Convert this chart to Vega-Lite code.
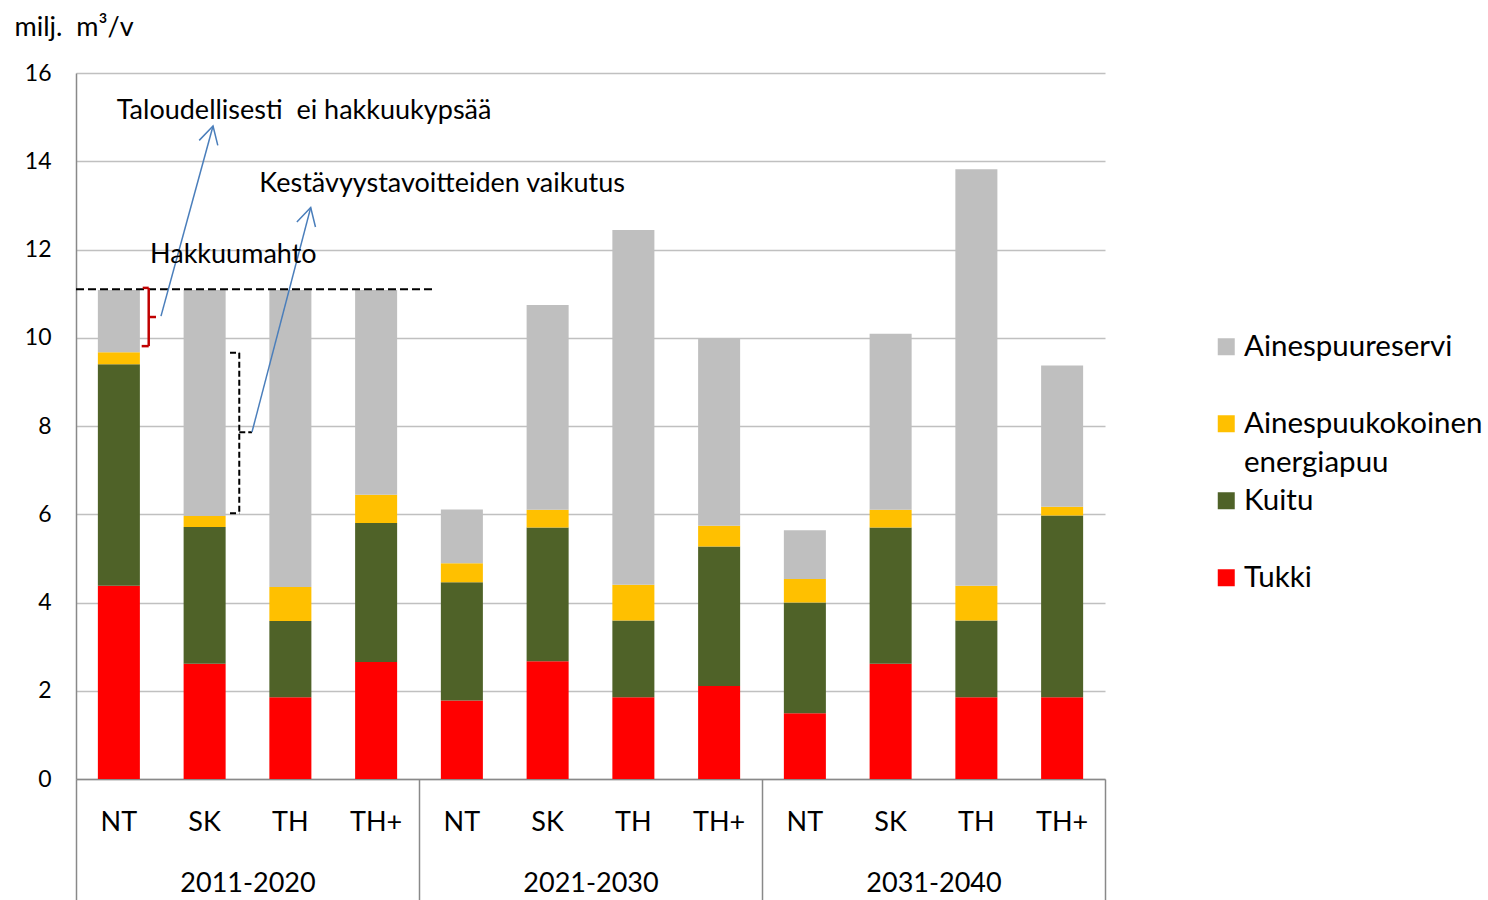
{
  "$schema": "https://vega.github.io/schema/vega-lite/v6.json",
  "width": 1029,
  "height": 706,
  "autosize": "none",
  "padding": {"left": 76, "top": 73, "right": 383, "bottom": 121},
  "background": "#ffffff",
  "config": {
    "view": {"stroke": null},
    "font": "Lato",
    "axis": {"labelFont": "Lato", "titleFont": "Lato", "labelColor": "#000000", "titleColor": "#000000"},
    "legend": {"labelFont": "Lato", "labelColor": "#000000"},
    "text": {"font": "Lato"},
    "style": {"guide-label": {"lineHeight": 39}}
  },
  "datasets": {
    "bars": [
      {"period": "2011-2020", "scenario": "NT", "lajite": "Tukki", "value": 4.38},
      {"period": "2011-2020", "scenario": "NT", "lajite": "Kuitu", "value": 5.02},
      {"period": "2011-2020", "scenario": "NT", "lajite": "Ainespuukokoinen energiapuu", "value": 0.27},
      {"period": "2011-2020", "scenario": "NT", "lajite": "Ainespuureservi", "value": 1.41},
      {"period": "2011-2020", "scenario": "SK", "lajite": "Tukki", "value": 2.61},
      {"period": "2011-2020", "scenario": "SK", "lajite": "Kuitu", "value": 3.10},
      {"period": "2011-2020", "scenario": "SK", "lajite": "Ainespuukokoinen energiapuu", "value": 0.25},
      {"period": "2011-2020", "scenario": "SK", "lajite": "Ainespuureservi", "value": 5.12},
      {"period": "2011-2020", "scenario": "TH", "lajite": "Tukki", "value": 1.85},
      {"period": "2011-2020", "scenario": "TH", "lajite": "Kuitu", "value": 1.73},
      {"period": "2011-2020", "scenario": "TH", "lajite": "Ainespuukokoinen energiapuu", "value": 0.77},
      {"period": "2011-2020", "scenario": "TH", "lajite": "Ainespuureservi", "value": 6.73},
      {"period": "2011-2020", "scenario": "TH+", "lajite": "Tukki", "value": 2.65},
      {"period": "2011-2020", "scenario": "TH+", "lajite": "Kuitu", "value": 3.15},
      {"period": "2011-2020", "scenario": "TH+", "lajite": "Ainespuukokoinen energiapuu", "value": 0.64},
      {"period": "2011-2020", "scenario": "TH+", "lajite": "Ainespuureservi", "value": 4.64},
      {"period": "2021-2030", "scenario": "NT", "lajite": "Tukki", "value": 1.78},
      {"period": "2021-2030", "scenario": "NT", "lajite": "Kuitu", "value": 2.68},
      {"period": "2021-2030", "scenario": "NT", "lajite": "Ainespuukokoinen energiapuu", "value": 0.43},
      {"period": "2021-2030", "scenario": "NT", "lajite": "Ainespuureservi", "value": 1.22},
      {"period": "2021-2030", "scenario": "SK", "lajite": "Tukki", "value": 2.67},
      {"period": "2021-2030", "scenario": "SK", "lajite": "Kuitu", "value": 3.03},
      {"period": "2021-2030", "scenario": "SK", "lajite": "Ainespuukokoinen energiapuu", "value": 0.40},
      {"period": "2021-2030", "scenario": "SK", "lajite": "Ainespuureservi", "value": 4.64},
      {"period": "2021-2030", "scenario": "TH", "lajite": "Tukki", "value": 1.85},
      {"period": "2021-2030", "scenario": "TH", "lajite": "Kuitu", "value": 1.74},
      {"period": "2021-2030", "scenario": "TH", "lajite": "Ainespuukokoinen energiapuu", "value": 0.81},
      {"period": "2021-2030", "scenario": "TH", "lajite": "Ainespuureservi", "value": 8.04},
      {"period": "2021-2030", "scenario": "TH+", "lajite": "Tukki", "value": 2.11},
      {"period": "2021-2030", "scenario": "TH+", "lajite": "Kuitu", "value": 3.16},
      {"period": "2021-2030", "scenario": "TH+", "lajite": "Ainespuukokoinen energiapuu", "value": 0.47},
      {"period": "2021-2030", "scenario": "TH+", "lajite": "Ainespuureservi", "value": 4.25},
      {"period": "2031-2040", "scenario": "NT", "lajite": "Tukki", "value": 1.49},
      {"period": "2031-2040", "scenario": "NT", "lajite": "Kuitu", "value": 2.51},
      {"period": "2031-2040", "scenario": "NT", "lajite": "Ainespuukokoinen energiapuu", "value": 0.53},
      {"period": "2031-2040", "scenario": "NT", "lajite": "Ainespuureservi", "value": 1.11},
      {"period": "2031-2040", "scenario": "SK", "lajite": "Tukki", "value": 2.61},
      {"period": "2031-2040", "scenario": "SK", "lajite": "Kuitu", "value": 3.09},
      {"period": "2031-2040", "scenario": "SK", "lajite": "Ainespuukokoinen energiapuu", "value": 0.40},
      {"period": "2031-2040", "scenario": "SK", "lajite": "Ainespuureservi", "value": 3.99},
      {"period": "2031-2040", "scenario": "TH", "lajite": "Tukki", "value": 1.85},
      {"period": "2031-2040", "scenario": "TH", "lajite": "Kuitu", "value": 1.74},
      {"period": "2031-2040", "scenario": "TH", "lajite": "Ainespuukokoinen energiapuu", "value": 0.79},
      {"period": "2031-2040", "scenario": "TH", "lajite": "Ainespuureservi", "value": 9.44},
      {"period": "2031-2040", "scenario": "TH+", "lajite": "Tukki", "value": 1.85},
      {"period": "2031-2040", "scenario": "TH+", "lajite": "Kuitu", "value": 4.12},
      {"period": "2031-2040", "scenario": "TH+", "lajite": "Ainespuukokoinen energiapuu", "value": 0.20},
      {"period": "2031-2040", "scenario": "TH+", "lajite": "Ainespuureservi", "value": 3.20}
    ],
    "hakkuumahto": [{"x": 0, "x2": 4.187, "y": 11.10}],
    "redBracket": [
      {"x": 0.778, "y": 11.13, "x2": 0.848, "y2": 11.13},
      {"x": 0.848, "y": 11.13, "x2": 0.848, "y2": 9.81},
      {"x": 0.766, "y": 9.81, "x2": 0.848, "y2": 9.81},
      {"x": 0.848, "y": 10.47, "x2": 0.933, "y2": 10.47}
    ],
    "blackBracket": [
      {"x": 1.796, "y": 9.66, "x2": 1.904, "y2": 9.66},
      {"x": 1.904, "y": 9.66, "x2": 1.904, "y2": 6.02},
      {"x": 1.796, "y": 6.02, "x2": 1.904, "y2": 6.02},
      {"x": 1.904, "y": 7.86, "x2": 2.052, "y2": 7.86}
    ],
    "arrows": [
      {"x": 0.991, "y": 10.49, "x2": 1.598, "y2": 14.80},
      {"x": 2.052, "y": 7.86, "x2": 2.737, "y2": 12.95}
    ],
    "labels": [
      {"x": 0.475, "y": 14.96, "text": "Taloudellisesti\u00a0 ei hakkuukypsää"},
      {"x": 2.138, "y": 13.30, "text": "Kestävyystavoitteiden vaikutus"},
      {"x": 0.863, "y": 11.69, "text": "Hakkuumahto"}
    ]
  },
  "layer": [
    {
      "data": {"name": "bars"},
      "transform": [
        {"calculate": "datum.period + '|' + datum.scenario", "as": "key"},
        {"calculate": "indexof(['Tukki', 'Kuitu', 'Ainespuukokoinen energiapuu', 'Ainespuureservi'], datum.lajite)", "as": "stackOrder"}
      ],
      "mark": {"type": "bar"},
      "encoding": {
        "x": {
          "field": "key", "type": "nominal", "sort": null,
          "scale": {"paddingInner": 0.51, "paddingOuter": 0.255},
          "axis": {
            "title": null, "labelExpr": "split(datum.value, '|')[1]",
            "labelAngle": 0, "labelFontSize": 27, "labelPadding": 30,
            "ticks": false, "tickSize": 0, "grid": false,
            "domain": true, "domainColor": "#898989", "domainWidth": 1.5
          }
        },
        "y": {
          "field": "value", "type": "quantitative", "stack": "zero",
          "scale": {"domain": [0, 16], "nice": false},
          "axis": {
            "values": [0, 2, 4, 6, 8, 10, 12, 14, 16],
            "grid": true, "gridColor": "#C0C0C0", "gridWidth": 1.5,
            "ticks": false, "tickSize": 0,
            "domain": true, "domainColor": "#898989", "domainWidth": 1.5,
            "labelFontSize": 23, "labelPadding": 25,
            "title": "milj.\u00a0 m³/v", "titleAngle": 0, "titleAlign": "left",
            "titleBaseline": "alphabetic", "titleX": -62, "titleY": -38,
            "titleFontSize": 27, "titleFontWeight": "normal"
          }
        },
        "color": {
          "field": "lajite", "type": "nominal",
          "scale": {
            "domain": ["Ainespuureservi", "Ainespuukokoinen energiapuu", "Kuitu", "Tukki"],
            "range": ["#BFBFBF", "#FFC000", "#4F6228", "#FF0000"]
          },
          "legend": {
            "title": null, "orient": "none", "legendX": 1135.5, "legendY": 259,
            "symbolType": "square", "symbolSize": 289, "symbolStrokeWidth": 0,
            "labelFontSize": 29.5, "labelOffset": 3, "rowPadding": 7,
            "gridAlign": "all",
            "labelLimit": 400, "padding": 0,
            "labelExpr": "datum.label == 'Ainespuukokoinen energiapuu' ? ['Ainespuukokoinen', 'energiapuu'] : datum.label"
          }
        },
        "order": {"field": "stackOrder", "type": "quantitative"}
      }
    },
    {
      "layer": [
        {
          "data": {"name": "hakkuumahto"},
          "mark": {"type": "rule", "color": "#000000", "strokeWidth": 2, "strokeDash": [8, 4]},
          "encoding": {
            "x": {
              "field": "x", "type": "quantitative",
              "scale": {"domain": [0, 12], "nice": false, "zero": false},
              "axis": {
                "orient": "bottom", "title": null,
                "values": [0, 2, 4, 6, 8, 10, 12],
                "domain": false, "grid": false,
                "ticks": true, "tickSize": 121, "tickColor": "#898989", "tickWidth": 1.5,
                "tickOpacity": {"condition": {"test": "datum.value % 4 === 0", "value": 1}, "value": 0},
                "labelExpr": "datum.value == 2 ? '2011-2020' : datum.value == 6 ? '2021-2030' : datum.value == 10 ? '2031-2040' : ''",
                "labelFontSize": 27, "labelPadding": -30, "labelAngle": 0,
                "labelFlush": false, "labelOverlap": false, "labelBound": false
              }
            },
            "x2": {"field": "x2"},
            "y": {"field": "y", "type": "quantitative"}
          }
        },
        {
          "data": {"name": "redBracket"},
          "mark": {"type": "rule", "color": "#C00000", "strokeWidth": 2.5},
          "encoding": {
            "x": {"field": "x", "type": "quantitative"},
            "x2": {"field": "x2"},
            "y": {"field": "y", "type": "quantitative"},
            "y2": {"field": "y2"}
          }
        },
        {
          "data": {"name": "blackBracket"},
          "mark": {"type": "rule", "color": "#000000", "strokeWidth": 2, "strokeDash": [6, 3]},
          "encoding": {
            "x": {"field": "x", "type": "quantitative"},
            "x2": {"field": "x2"},
            "y": {"field": "y", "type": "quantitative"},
            "y2": {"field": "y2"}
          }
        },
        {
          "data": {"name": "arrows"},
          "mark": {"type": "rule", "color": "#4A7EBB", "strokeWidth": 1.5},
          "encoding": {
            "x": {"field": "x", "type": "quantitative"},
            "x2": {"field": "x2"},
            "y": {"field": "y", "type": "quantitative"},
            "y2": {"field": "y2"}
          }
        },
        {
          "data": {"name": "arrows"},
          "mark": {"type": "point", "shape": "M-0.55,1L0,0L0.55,1", "size": 1225, "filled": false, "stroke": "#4A7EBB", "strokeWidth": 1.5, "angle": 15, "opacity": 1},
          "encoding": {
            "x": {"field": "x2", "type": "quantitative"},
            "y": {"field": "y2", "type": "quantitative"}
          }
        },
        {
          "data": {"name": "labels"},
          "mark": {"type": "text", "align": "left", "baseline": "alphabetic", "fontSize": 27, "color": "#000000"},
          "encoding": {
            "x": {"field": "x", "type": "quantitative"},
            "y": {"field": "y", "type": "quantitative"},
            "text": {"field": "text"}
          }
        }
      ]
    }
  ],
  "resolve": {"scale": {"x": "independent"}, "axis": {"x": "independent"}}
}
